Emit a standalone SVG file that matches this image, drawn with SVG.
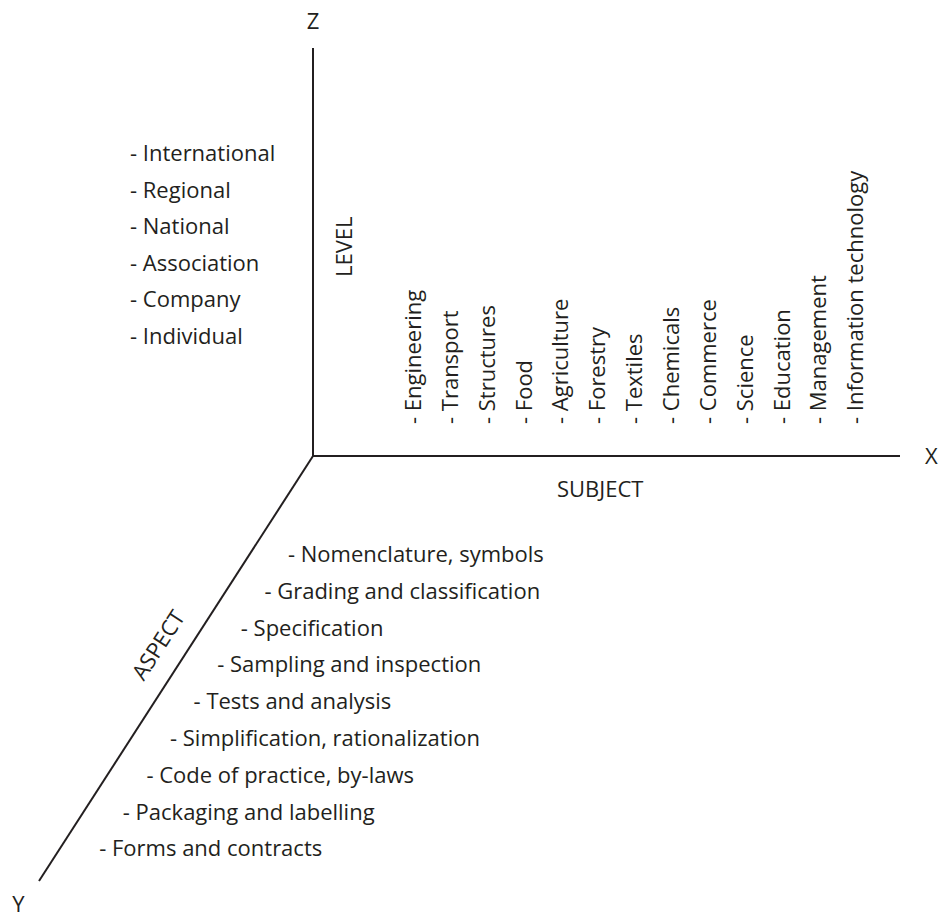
<svg xmlns="http://www.w3.org/2000/svg" width="939" height="918" viewBox="0 0 939 918">
<style>
text { font-family: "Open Sans", "Noto Sans", "DejaVu Sans", sans-serif; font-size: 22px; fill: #231f20; }
.axis { stroke: #231f20; stroke-width: 2; fill: none; stroke-linecap: butt; }
</style>
<rect width="939" height="918" fill="#ffffff"/>
<g id="connectors">
  <line class="axis" x1="313" y1="48" x2="313" y2="457"/>
  <line class="axis" x1="312" y1="456" x2="900" y2="456"/>
  <line class="axis" x1="313" y1="456" x2="39" y2="881"/>
</g>
<g id="axis-labels">
  <text x="313" y="29" text-anchor="middle">Z</text>
  <text x="925" y="464">X</text>
  <text x="18.5" y="912" text-anchor="middle">Y</text>
</g>
<g id="level">
  <text transform="translate(352,277) rotate(-90)">LEVEL</text>
  <text x="130" y="161">- International</text>
  <text x="130" y="197.6">- Regional</text>
  <text x="130" y="234.2">- National</text>
  <text x="130" y="270.8">- Association</text>
  <text x="130" y="307.4">- Company</text>
  <text x="130" y="344">- Individual</text>
</g>
<g id="subject">
  <text x="557" y="497">SUBJECT</text>
  <text transform="translate(421,424) rotate(-90)">- Engineering</text>
  <text transform="translate(457.85,424) rotate(-90)">- Transport</text>
  <text transform="translate(494.7,424) rotate(-90)">- Structures</text>
  <text transform="translate(531.55,424) rotate(-90)">- Food</text>
  <text transform="translate(568.4,424) rotate(-90)">- Agriculture</text>
  <text transform="translate(605.25,424) rotate(-90)">- Forestry</text>
  <text transform="translate(642.1,424) rotate(-90)">- Textiles</text>
  <text transform="translate(678.95,424) rotate(-90)">- Chemicals</text>
  <text transform="translate(715.8,424) rotate(-90)">- Commerce</text>
  <text transform="translate(752.65,424) rotate(-90)">- Science</text>
  <text transform="translate(789.5,424) rotate(-90)">- Education</text>
  <text transform="translate(826.35,424) rotate(-90)">- Management</text>
  <text transform="translate(863.2,424) rotate(-90)">- Information technology</text>
</g>
<g id="aspect">
  <text transform="translate(158,645) rotate(-57)" text-anchor="middle" y="8">ASPECT</text>
  <text x="288" y="562">- Nomenclature, symbols</text>
  <text x="264.4" y="598.8">- Grading and classification</text>
  <text x="240.8" y="635.6">- Specification</text>
  <text x="217.2" y="672.4">- Sampling and inspection</text>
  <text x="193.6" y="709.2">- Tests and analysis</text>
  <text x="170" y="746">- Simplification, rationalization</text>
  <text x="146.4" y="782.8">- Code of practice, by-laws</text>
  <text x="122.8" y="819.6">- Packaging and labelling</text>
  <text x="99.2" y="856.4">- Forms and contracts</text>
</g>
</svg>
